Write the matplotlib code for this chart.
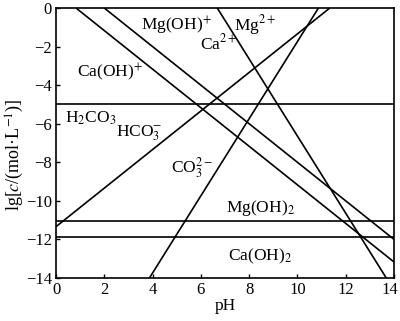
import matplotlib
matplotlib.use("Agg")
import matplotlib.pyplot as plt
from matplotlib.transforms import ScaledTranslation

plt.rcParams['font.family'] = ['Liberation Serif', 'DejaVu Serif']
plt.rcParams['mathtext.fontset'] = 'stix'

# Line endpoints (pH, lg c)
lines = {
    'H2CO3':   ([0, 14], [-5.0, -5.0]),
    'Mg(OH)2': ([0, 14], [-11.05, -11.05]),
    'Ca(OH)2': ([0, 14], [-11.87, -11.87]),
    'HCO3-':   ([0, 11.34], [-11.34, 0]),
    'CO3 2-':  ([3.87, 10.87], [-14, 0]),
    'Mg2+':    ([6.68, 13.68], [0, -14]),
    'Mg(OH)+': ([2.0, 14], [0, -12.0]),
    'Ca(OH)+': ([0.83, 14], [0, -13.17]),
}

labels = [
    (r'Mg(OH)$^{+}$', 5.0, -0.93),
    (r'Ca$^{2+}$', 6.75, -1.85),
    (r'Mg$^{2+}$', 8.24, -0.88),
    (r'Ca(OH)$^{+}$', 2.23, -3.3),
    (r'H$_2$CO$_3$', 1.45, -5.7),
    (r'HCO$_3^{-}$', 3.44, -6.5),
    (r'CO$_3^{2-}$', 5.63, -8.3),
    (r'Mg(OH)$_2$', 8.45, -10.37),
    (r'Ca(OH)$_2$', 8.45, -12.9),
]

xticks = [0, 2, 4, 6, 8, 10, 12, 14]
yticks = [0, -2, -4, -6, -8, -10, -12, -14]

fig = plt.figure(figsize=(4.0, 3.21), dpi=100)
ax = fig.add_axes([0.14, 0.134, 0.845, 0.841])

for name, (xs, ys) in lines.items():
    ax.plot(xs, ys, color='black', lw=1.2, solid_capstyle='butt')

for txt, x, y in labels:
    ax.text(x, y, txt, fontsize=12.5, ha='center', va='center')

ax.set_xlim(0, 14)
ax.set_ylim(-14, 0)
ax.set_xticks(xticks)
ax.set_xticklabels([str(t) for t in xticks])
ax.set_yticks(yticks)
ax.set_yticklabels(['0'] + ['\u2212%d' % abs(t) for t in yticks[1:]])
ax.tick_params(direction='in', length=3, width=1, labelsize=12, pad=3)
for s in ax.spines.values():
    s.set_linewidth(1.2)
ax.set_xlabel('pH', fontsize=12.5, labelpad=0)
ax.set_ylabel(r'lg[$c$/(mol·L$^{-1}$)]', fontsize=13)
ax.yaxis.set_label_coords(-0.088, 0.457)

last = ax.get_xticklabels()[-1]
last.set_transform(last.get_transform() + ScaledTranslation(-3 / 72, 0, fig.dpi_scale_trans))

fig.savefig('out.png', dpi=100)
